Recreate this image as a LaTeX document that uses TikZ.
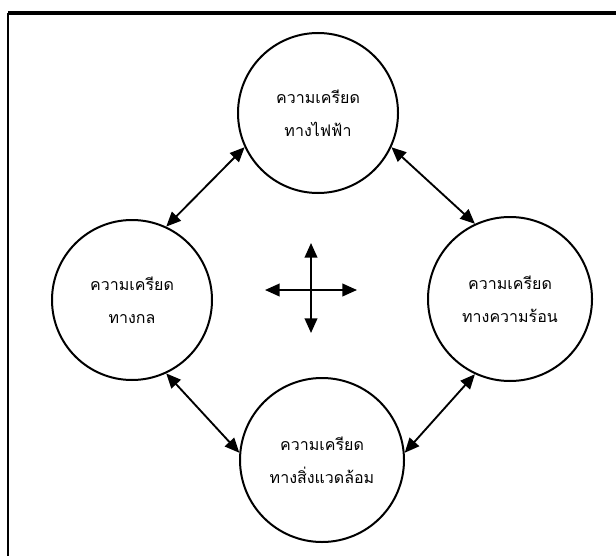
\documentclass[tikz,border=0pt]{standalone}
\usepackage{fontspec}
\newfontfamily\thaifont[Script=Thai]{Loma}
\usetikzlibrary{arrows.meta}
\tikzset{
  bubble/.style={circle, draw, line width=1.5pt, minimum size=#1, inner sep=0pt, font=\thaifont\fontsize{12}{25}\selectfont, align=center},
  dbl/.style={{Triangle[length=11pt,width=9.5pt]}-{Triangle[length=11pt,width=9.5pt]}, line width=1.4pt},
  topline/.style={line width=2.3pt},
  sideline/.style={line width=1.6pt}
}
\begin{document}
\begin{tikzpicture}[x=0.75pt,y=-0.75pt]
\useasboundingbox (0,0) rectangle (616,556);
\coordinate (fr) at (616,13);
\coordinate (fc) at (8,13);
\coordinate (fb) at (8,556);
\draw[topline] (fr) -- (fc);
\draw[sideline] (fc) -- (fb);
\node[bubble=120pt] (top) at (318,113) {ความเครียด\\ทางไฟฟ้า};
\node[bubble=120pt] (left) at (132,300) {ความเครียด\\ทางกล};
\node[bubble=123pt] (right) at (510,299) {ความเครียด\\ทางความร้อน};
\node[bubble=123pt] (bottom) at (322,460) {ความเครียด\\ทางสิ่งแวดล้อม};
\draw[dbl] (top.205) -- (left.65);
\draw[dbl] (top.335) -- (right.115);
\draw[dbl] (left.295) -- (bottom.175);
\draw[dbl] (right.245) -- (bottom.5);
\coordinate (cl) at (265,290);
\coordinate (cr) at (357,290);
\coordinate (ct) at (311,243);
\coordinate (cb) at (311,333);
\draw[dbl] (cl) -- (cr);
\draw[dbl] (ct) -- (cb);
\end{tikzpicture}
\end{document}
